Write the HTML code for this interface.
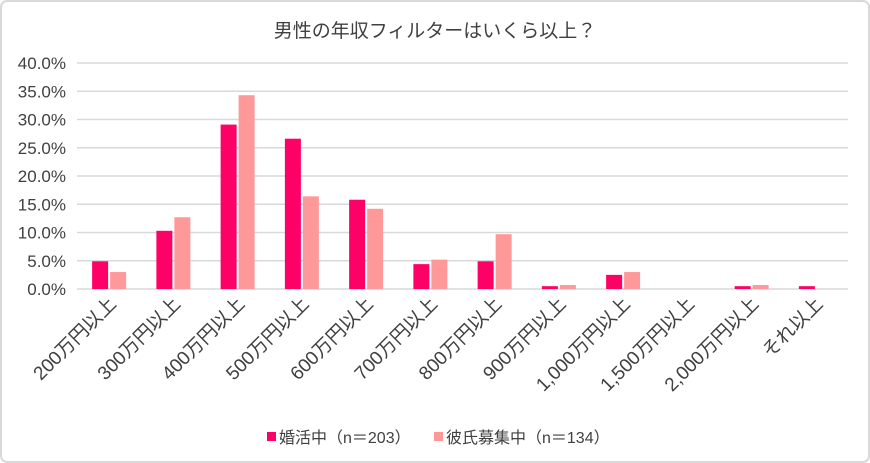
<!DOCTYPE html>
<html><head><meta charset="utf-8"><style>
html,body{margin:0;padding:0;background:#fff}
svg{display:block;font-family:"Liberation Sans","Noto Sans CJK JP",sans-serif}
</style></head><body>
<svg id="chart" width="870" height="463">
<rect x="1" y="1" width="868" height="461" rx="6" fill="#fff" stroke="#d9d9d9" stroke-width="2"/>
<text x="435" y="37" text-anchor="middle" font-size="19" fill="#404040">男性の年収フィルターはいくら以上？</text>
<g id="grid"></g><g id="bars"></g><g id="xlabels"></g>
<g>
<rect x="267" y="432" width="9" height="9" fill="#ff0066"/>
<text x="279" y="443" font-size="16" fill="#404040">婚活中（n＝203）</text>
<rect x="434" y="432" width="9" height="9" fill="#ff9999"/>
<text x="446" y="443" font-size="16" fill="#404040">彼氏募集中（n＝134）</text>
</g>
</svg>
<script>
const categories=["200万円以上","300万円以上","400万円以上","500万円以上","600万円以上","700万円以上","800万円以上","900万円以上","1,000万円以上","1,500万円以上","2,000万円以上","それ以上"];
const konkatsu=[4.9,10.3,29.1,26.6,15.8,4.4,4.9,0.5,2.5,0,0.5,0.5];
const kareshi=[3.0,12.7,34.3,16.4,14.2,5.2,9.7,0.7,3.0,0,0.7,0];
const yTicks=[0,5,10,15,20,25,30,35,40];
const NS="http://www.w3.org/2000/svg";
const X0=77,X1=848,Y0=289,Y1=63;
const bw=(X1-X0)/categories.length;
const y=v=>Y0-(v/40)*(Y0-Y1);
function mk(t,a,p){const e=document.createElementNS(NS,t);for(const k in a)e.setAttribute(k,a[k]);p.appendChild(e);return e;}
const grid=document.getElementById('grid'),bars=document.getElementById('bars'),xl=document.getElementById('xlabels');
yTicks.forEach(t=>{
 const l=mk('line',{x1:X0,x2:X1,y1:y(t),y2:y(t),stroke:'#d9d9d9','stroke-width':1.5},grid);
 
 
 const tx=mk('text',{x:66,y:y(t)+6,'text-anchor':'end','font-size':17,fill:'#404040'},grid);
 tx.textContent=t.toFixed(1)+'%';
 
 
});
categories.forEach((c,i)=>{
 const cx=X0+bw*(i+0.5);
 [[konkatsu,'#ff0066',-17],[kareshi,'#ff9999',1]].forEach(([arr,col,off],s)=>{
  const v=arr[i];
  const r=mk('rect',{x:cx+off,y:y(v),width:16,height:Y0-y(v),fill:col},bars);
  
  
 });
 const t=mk('text',{x:0,y:0,'text-anchor':'end','font-size':19,fill:'#404040',transform:`translate(${cx+8},${305}) rotate(-45)`},xl);
 t.textContent=c;
 
 
});
</script>
</body></html>
